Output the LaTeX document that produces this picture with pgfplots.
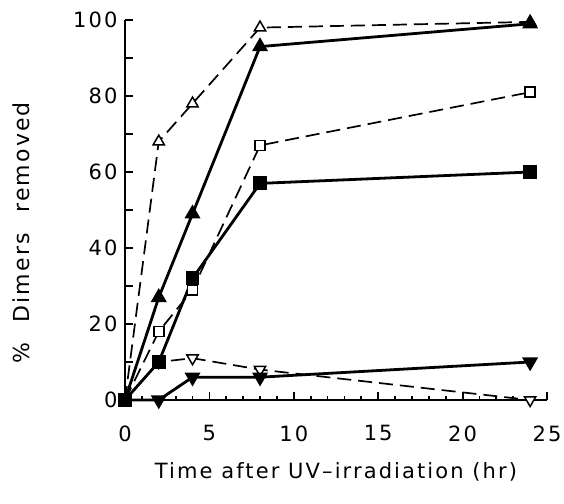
\documentclass[border=0pt]{standalone}
\usepackage{pgfplots}
\pgfplotsset{compat=1.18}
\usepackage{fontspec}
\setmainfont{DejaVu Sans}[LetterSpace=10]
\newfontfamily\ylabfont{DejaVu Sans}[LetterSpace=10, WordSpace=2.2]

\begin{document}
\begin{tikzpicture}
\useasboundingbox (0,0) rectangle (564pt,503pt);
\begin{axis}[
  at={(125pt,103pt)}, anchor=south west,
  width=422pt, height=380pt, scale only axis,
  xmin=0, xmax=25, ymin=0, ymax=100,
  axis x line*=bottom, axis y line*=left,
  axis line style={line width=2.6pt},
  clip=false,
  tick align=inside,
  xtick={0,5,...,25}, minor xtick={1,...,24},
  ytick={0,20,...,100},
  extra y ticks={10,30,...,90}, extra y tick labels={},
  major tick length=8pt, minor tick length=4pt,
  every tick/.style={black, line width=1.8pt},
  /pgf/number format/assume math mode=true,
  tick label style={font=\fontsize{21}{21}\selectfont},
  xticklabel style={yshift=-22pt},
  yticklabel style={xshift=-4pt},
  label style={font=\fontsize{21}{21}\selectfont},
  xlabel={Time after UV--irradiation (hr)},
  ylabel={\ylabfont\fontsize{22}{22}\selectfont\% Dimers removed},
  xlabel style={at={(axis description cs:0.5,-0.19)}, anchor=center},
  ylabel style={at={(axis description cs:-0.245,0.44)}, anchor=center},
]
% dashed series, open markers
\addplot[black, line width=1.7pt, dash pattern=on 14pt off 7pt,
  mark=triangle*, mark size=6.5pt, mark indices={2,...,5},
  mark options={solid, fill=white, line width=1.5pt}]
  coordinates {(0,0) (2,68) (4,78) (8,98) (24,99.5)};
\addplot[black, line width=1.7pt, dash pattern=on 14pt off 7pt,
  mark=square*, mark size=5pt, mark indices={2,...,5},
  mark options={solid, fill=white, line width=1.5pt}]
  coordinates {(0,0) (2,18) (4,29) (8,67) (24,81)};
\addplot[black, line width=1.7pt, dash pattern=on 14pt off 7pt,
  mark=triangle*, mark size=6.5pt, mark indices={2,...,5},
  mark options={solid, fill=white, line width=1.5pt, rotate=180}]
  coordinates {(0,0) (2,10) (4,11) (8,8) (24,0)};
% solid series, filled markers
\addplot[black, line width=2.8pt,
  mark=triangle*, mark size=6.5pt, mark indices={2,...,5},
  mark options={solid, fill=black}]
  coordinates {(0,0) (2,27) (4,49) (8,93) (24,99)};
\addplot[black, line width=2.8pt,
  mark=triangle*, mark size=6.5pt, mark indices={2,...,5},
  mark options={solid, fill=black, rotate=180}]
  coordinates {(0,0) (2,0) (4,6) (8,6) (24,10)};
\addplot[black, line width=2.8pt,
  mark=square*, mark size=5.5pt,
  mark options={solid, fill=black}]
  coordinates {(0,0) (2,10) (4,32) (8,57) (24,60)};
\end{axis}
\end{tikzpicture}
\end{document}
